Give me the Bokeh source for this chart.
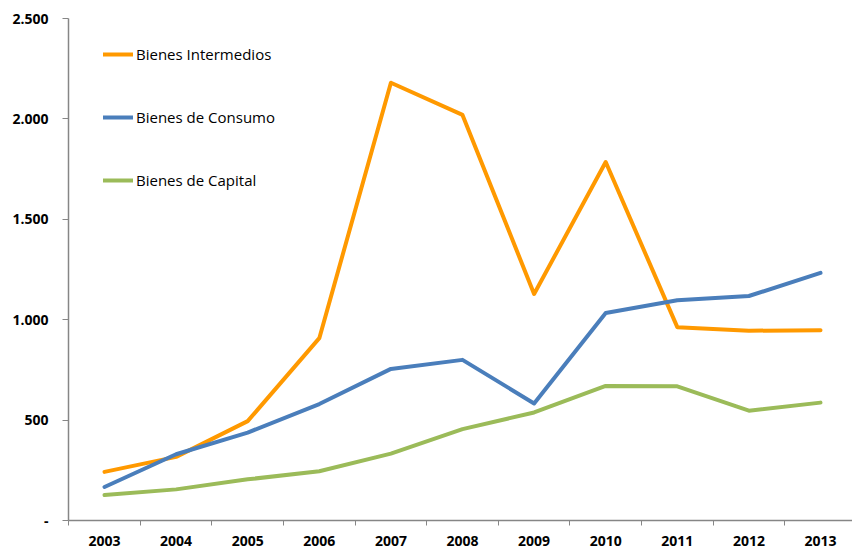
from bokeh.plotting import figure
from bokeh.models import Range1d, FixedTicker, Legend, LegendItem
from bokeh.embed import file_html
from bokeh.resources import INLINE

years = [2003, 2004, 2005, 2006, 2007, 2008, 2009, 2010, 2011, 2012, 2013]
intermedios = [242, 317, 495, 908, 2180, 2020, 1128, 1785, 963, 945, 948]
consumo = [167, 330, 438, 580, 755, 800, 583, 1033, 1097, 1118, 1233]
capital = [127, 155, 205, 245, 333, 455, 538, 670, 668, 547, 587]

y_ticks = [0, 500, 1000, 1500, 2000, 2500]
y_labels = ["-", "500", "1.000", "1.500", "2.000", "2.500"]

series = [
    ("Bienes Intermedios", intermedios, "#FF9900"),
    ("Bienes de Consumo", consumo, "#4A7EBB"),
    ("Bienes de Capital", capital, "#9BBB59"),
]

p = figure(width=852, height=548, output_backend="svg", toolbar_location=None,
           x_range=Range1d(2002.497, 2013.447), y_range=Range1d(0, 2500),
           min_border_left=68, min_border_right=0, min_border_top=18,
           min_border_bottom=28)
p.outline_line_color = None
p.grid.visible = False
p.background_fill_color = "white"
p.border_fill_color = "white"

items = []
for name, vals, color in series:
    r = p.line(years, vals, line_color=color, line_width=4, line_join="round", line_cap="round")
    items.append(LegendItem(label=name, renderers=[r]))

legend = Legend(items=items, location=(35, 330))
legend.glyph_width = 30
legend.glyph_height = 20
legend.label_height = 20
legend.spacing = 43
legend.padding = 0
legend.margin = 0
legend.label_standoff = 3
legend.border_line_color = None
legend.background_fill_alpha = 0
legend.label_text_font = "Open Sans"
legend.label_text_font_size = "15px"
legend.label_text_color = "#000000"
p.add_layout(legend)

xa = p.xaxis[0]
xa.ticker = FixedTicker(ticks=years, minor_ticks=[y - 0.5 for y in years] + [years[-1] + 0.5])
xa.major_tick_out = 0
xa.major_tick_in = 0
xa.minor_tick_out = 5
xa.minor_tick_in = 0
xa.minor_tick_line_color = "#868686"
xa.axis_line_color = "#868686"
xa.axis_line_width = 1.5
xa.major_label_standoff = 10
xa.major_label_text_font = "Open Sans"
xa.major_label_text_font_style = "bold"
xa.major_label_text_font_size = "14px"
xa.major_label_text_color = "#000000"

ya = p.yaxis[0]
ya.ticker = FixedTicker(ticks=y_ticks, minor_ticks=[])
ya.major_label_overrides = {t: l for t, l in zip(y_ticks, y_labels)}
ya.major_tick_out = 6
ya.major_tick_in = 0
ya.major_tick_line_color = "#868686"
ya.minor_tick_line_color = None
ya.axis_line_color = "#868686"
ya.axis_line_width = 1.5
ya.major_label_standoff = 14
ya.major_label_text_font = "Open Sans"
ya.major_label_text_font_style = "bold"
ya.major_label_text_font_size = "14px"
ya.major_label_text_color = "#000000"

open("out.html", "w").write(file_html(p, INLINE))
